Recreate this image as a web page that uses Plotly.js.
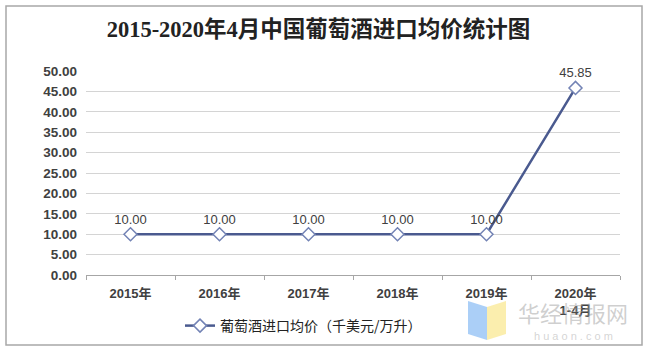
<!DOCTYPE html>
<html><head><meta charset="utf-8">
<script src="https://cdn.plot.ly/plotly-3.0.1.min.js"></script>
<style>html,body{margin:0;padding:0;background:#fff;}#c{width:650px;height:355px;}</style>
</head><body><div id="c"></div>
<script>
const categories = ["2015年","2016年","2017年","2018年","2019年","2020年<br>1-4月"];
const values = [10.00, 10.00, 10.00, 10.00, 10.00, 45.85];
const seriesName = "葡萄酒进口均价（千美元/万升）";
const yTicks = [0,5,10,15,20,25,30,35,40,45,50];

const L=86, R=30, T=71, B=80, W=650, H=355;
const pw=W-L-R, ph=H-T-B;
const px = x => (x-L)/pw;
const py = y => (H-B-y)/ph;
const pathOf = pts => "M" + pts.map(p => px(p[0]) + "," + py(p[1])).join(" L") + " Z";

const trace = {
  x: categories, y: values, name: seriesName,
  type: "scatter", mode: "lines+markers+text",
  text: values.map(v=>v.toFixed(2)), textposition: "top center",
  textfont: {family:"Liberation Sans, Arial, sans-serif", size:13, color:"#404040"},
  line: {color:"#4a5a8f", width:2.5},
  marker: {symbol:"diamond", size:10, color:"#ffffff", line:{color:"#7383b5", width:1.5}},
  cliponaxis:false
};

const layout = {
  width:W, height:H, margin:{l:L,r:R,t:T,b:B},
  paper_bgcolor:"#ffffff", plot_bgcolor:"#ffffff",
  title:{text:"<b>2015-2020年4月中国葡萄酒进口均价统计图</b>", x:0.49, xanchor:"center", y:1-29/H, yanchor:"middle",
    font:{family:"Liberation Serif, Noto Sans CJK SC, serif", size:22.5, color:"#222"}},
  xaxis:{type:"category", range:[-0.5,5.5], showgrid:false, showline:true, linecolor:"#a6a6a6", linewidth:1,
    ticks:"outside", tickson:"boundaries", ticklen:4, tickcolor:"#a6a6a6", ticklabelstandoff:6,
    tickfont:{family:"Liberation Sans, Arial, Noto Sans CJK SC, sans-serif", size:13, color:"#404040", weight:"bold"}},
  yaxis:{range:[0,50], tickvals:yTicks, ticktext:yTicks.map(v=>v.toFixed(2)), showgrid:true, gridcolor:"#d4d4d4", gridwidth:1,
    zeroline:false, showline:false, ticks:"", ticklabelstandoff:8,
    tickfont:{family:"Liberation Sans, Arial, sans-serif", size:13.5, color:"#404040", weight:"bold"}},
  showlegend:true,
  legend:{orientation:"h", x:px(180), xanchor:"left", y:py(326), yanchor:"middle",
    font:{family:"Noto Sans CJK SC, sans-serif", size:14, color:"#222"}, itemwidth:30},
  shapes:[
    {type:"rect", xref:"paper", yref:"paper", x0:px(6), x1:px(642), y0:py(345), y1:py(6),
      line:{color:"#a8a8a8", width:1.5}, fillcolor:"rgba(0,0,0,0)", layer:"below"},
    {type:"path", xref:"paper", yref:"paper", path:pathOf([[468,301],[487,307],[487,340],[468,334]]),
      fillcolor:"rgba(150,195,245,0.8)", line:{width:0}, layer:"above"},
    {type:"path", xref:"paper", yref:"paper", path:pathOf([[487,307],[506,301],[506,334],[487,340]]),
      fillcolor:"rgba(250,235,160,0.85)", line:{width:0}, layer:"above"}
  ],
  annotations:[
    {xref:"paper", yref:"paper", x:px(573), y:py(312), xanchor:"center", yanchor:"middle", text:"华经情报网", showarrow:false,
      font:{family:"Noto Sans CJK SC, sans-serif", size:22, color:"rgba(160,160,160,0.5)"}},
    {xref:"paper", yref:"paper", x:px(573), y:py(336), xanchor:"center", yanchor:"middle", text:"h u a o n . c o m", showarrow:false,
      font:{family:"Liberation Sans, sans-serif", size:11, color:"rgba(170,170,170,0.5)"}}
  ]
};
Plotly.newPlot("c",[trace],layout,{displayModeBar:false, staticPlot:true});
</script></body></html>
